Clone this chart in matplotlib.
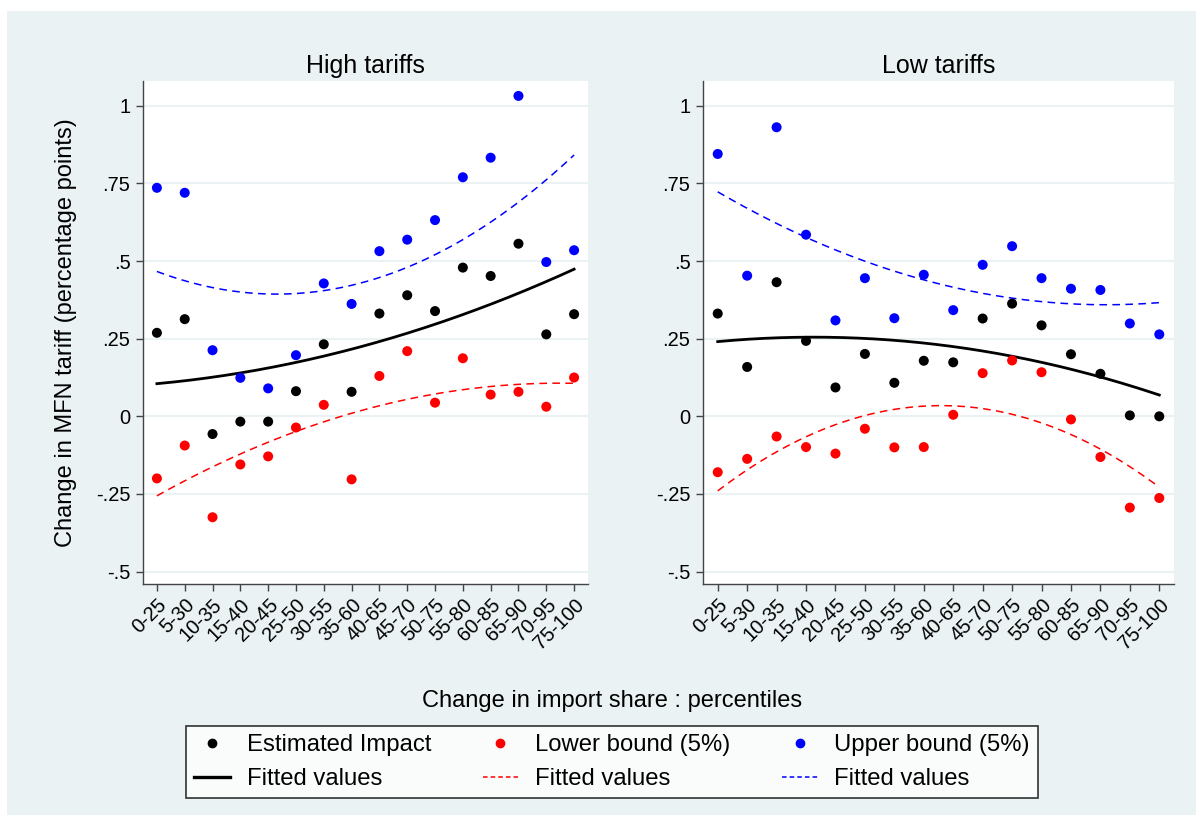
import numpy as np
import matplotlib
matplotlib.use("Agg")
import matplotlib.pyplot as plt
from matplotlib.patches import Rectangle
from matplotlib.lines import Line2D

plt.rcParams["font.family"] = ["Liberation Sans", "DejaVu Sans"]

BG = "#eaf2f3"

bins = ["0-25", "5-30", "10-35", "15-40", "20-45", "25-50", "30-55", "35-60",
        "40-65", "45-70", "50-75", "55-80", "60-85", "65-90", "70-95", "75-100"]

# High tariffs panel
high_est = [0.269, 0.313, -0.057, -0.017, -0.017, 0.081, 0.232, 0.079,
            0.331, 0.390, 0.339, 0.479, 0.452, 0.556, 0.264, 0.329]
high_low = [-0.200, -0.094, -0.325, -0.155, -0.129, -0.036, 0.037, -0.203,
            0.130, 0.210, 0.044, 0.187, 0.070, 0.079, 0.031, 0.125]
high_up = [0.736, 0.720, 0.213, 0.124, 0.090, 0.197, 0.428, 0.362,
           0.532, 0.569, 0.632, 0.770, 0.833, 1.032, 0.497, 0.535]

# Low tariffs panel
low_est = [0.331, 0.159, 0.432, 0.243, 0.093, 0.201, 0.108, 0.179,
           0.174, 0.315, 0.363, 0.293, 0.200, 0.137, 0.003, 0.000]
low_low = [-0.180, -0.137, -0.065, -0.099, -0.120, -0.040, -0.100, -0.099,
           0.005, 0.139, 0.180, 0.142, -0.010, -0.131, -0.294, -0.263]
low_up = [0.845, 0.453, 0.931, 0.585, 0.309, 0.445, 0.316, 0.456,
          0.342, 0.488, 0.548, 0.445, 0.411, 0.407, 0.299, 0.264]

panels = [("High tariffs", high_est, high_low, high_up),
          ("Low tariffs", low_est, low_low, low_up)]

W, H = 1202, 821
fig = plt.figure(figsize=(W / 100, H / 100), dpi=100)
fig.patch.set_facecolor("white")
fig.patches.append(Rectangle((7 / W, 1 - 815 / H), (1196 - 7) / W, (815 - 11) / H,
                             transform=fig.transFigure, facecolor=BG,
                             edgecolor="none", zorder=-10))

# axes boxes in pixels: left, top, right, bottom
boxes = [(143, 81, 588, 584), (703, 81, 1174, 584)]
x = np.arange(1, len(bins) + 1)
xs = np.linspace(1, len(bins), 200)

for (l, t, r, b), (title, est, lo, up) in zip(boxes, panels):
    ax = fig.add_axes([l / W, 1 - b / H, (r - l) / W, (b - t) / H])
    ax.set_facecolor("white")
    for s in ["top", "right"]:
        ax.spines[s].set_visible(False)
    for s in ["left", "bottom"]:
        ax.spines[s].set_color("#444444")
        ax.spines[s].set_linewidth(1.0)

    for vals, col in [(est, "black"), (lo, "red"), (up, "blue")]:
        ax.scatter(x, vals, s=52, color=col, edgecolor="none", zorder=3)

    # quadratic fits (Stata qfit)
    for vals, col, ls, lw in [(est, "black", "-", 2.0),
                              (lo, "red", (0, (5, 3.5)), 1.1),
                              (up, "blue", (0, (5, 3.5)), 1.1)]:
        c = np.polyfit(x, vals, 2)
        ax.plot(xs, np.polyval(c, xs), color=col, linestyle=ls, linewidth=lw, zorder=2)

    ax.set_xlim(0.5, 16.5)
    ax.set_ylim(-0.54, 1.08)
    ax.set_yticks([-0.5, -0.25, 0, 0.25, 0.5, 0.75, 1])
    ax.set_yticklabels(["-.5", "-.25", "0", ".25", ".5", ".75", "1"])
    ax.set_xticks(x)
    ax.set_xticklabels(bins, rotation=45, ha="right", rotation_mode="anchor")
    ax.tick_params(axis="both", labelsize=14.5, length=5, width=1, color="#444444",
                   direction="out", pad=4)
    ax.tick_params(axis="x", pad=3)
    ax.grid(axis="y", color=BG, linewidth=1.5)
    ax.set_axisbelow(True)
    ax.set_title(title, fontsize=18, pad=6)

fig.text(66 / W, 1 - 333 / H, "Change in MFN tariff (percentage points)",
         rotation=90, ha="center", va="center", fontsize=17)
fig.text(612 / W, 1 - 701 / H, "Change in import share : percentiles",
         ha="center", va="center", fontsize=17)

handles = [
    Line2D([], [], marker="o", linestyle="none", color="black", markersize=6),
    Line2D([], [], color="black", linewidth=2.4),
    Line2D([], [], marker="o", linestyle="none", color="red", markersize=6),
    Line2D([], [], color="red", linewidth=1.1, linestyle=(0, (3, 2))),
    Line2D([], [], marker="o", linestyle="none", color="blue", markersize=6),
    Line2D([], [], color="blue", linewidth=1.1, linestyle=(0, (3, 2))),
]
labels = ["Estimated Impact", "Fitted values", "Lower bound (5%)", "Fitted values",
          "Upper bound (5%)", "Fitted values"]
leg = fig.legend(handles, labels, ncol=3, loc="center",
                 bbox_to_anchor=(612 / W, 1 - 762 / H), fontsize=17.2,
                 frameon=True, fancybox=False, edgecolor="black",
                 handlelength=1.5, columnspacing=2.15, labelspacing=0.5,
                 borderpad=0.33, handletextpad=0.7)
leg.get_frame().set_linewidth(1.2)
leg.get_frame().set_facecolor("white")

fig.savefig("out.png", dpi=100, facecolor=fig.get_facecolor())
